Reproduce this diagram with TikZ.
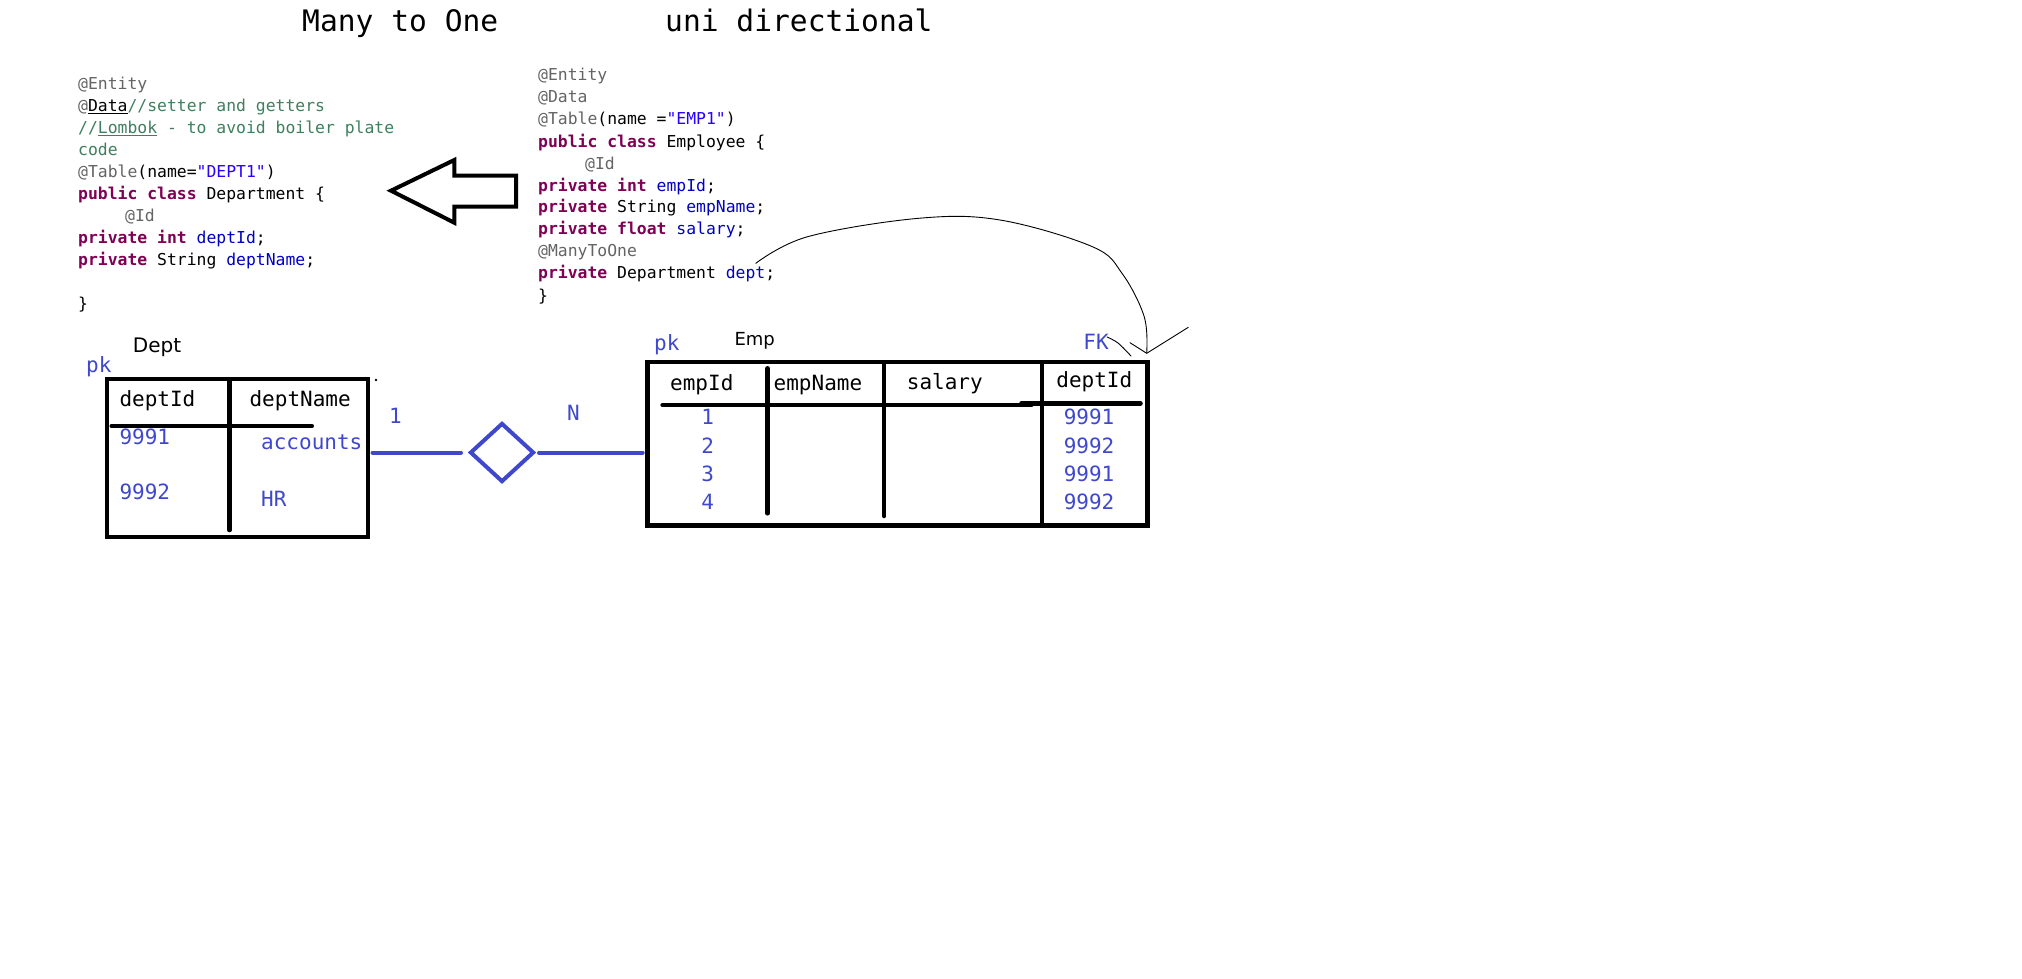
\documentclass[tikz,border=0pt]{standalone}
\usepackage{fontspec}
\usetikzlibrary{shapes.geometric}
\newfontfamily\codefont{DejaVu Sans Mono}
\newfontfamily\uifont{DejaVu Sans}
\definecolor{kw}{HTML}{7F0055}
\definecolor{ann}{HTML}{646464}
\definecolor{str}{HTML}{2A00FF}
\definecolor{fld}{HTML}{0000C0}
\definecolor{cmt}{HTML}{3F7F5F}
\definecolor{ink}{HTML}{3F48CC}
\begin{document}
\begin{tikzpicture}[x=1pt,y=-1pt,
  code/.style={anchor=mid west,inner sep=0pt,yshift=-4pt,font=\codefont\fontsize{16.4}{20}\selectfont},
  ttl/.style={anchor=mid west,inner sep=0pt,yshift=-7.5pt,font=\codefont\fontsize{29.6}{34}\selectfont},
  cell/.style={anchor=mid west,inner sep=0pt,yshift=-4pt,font=\codefont\fontsize{21}{25}\selectfont},
  cellc/.style={cell,anchor=mid},
  blue/.style={text=ink},
  lbl/.style={anchor=mid west,inner sep=0pt,yshift=-3.5pt,font=\uifont\fontsize{20}{24}\selectfont},
  tablebox/.style={draw,line width=4.5pt,inner sep=0pt,outer sep=0pt},
  tline/.style={line width=4.5pt,line cap=round},
  conn/.style={draw=ink,line width=4pt,line cap=round},
  pen/.style={line width=0.9pt,line cap=round,line join=round}
]
\useasboundingbox[fill=white] (0,0) rectangle (2022,978);

% titles
\node[ttl] (t1) at (302,22) {Many to One};
\node[ttl] (t2) at (665,22) {uni directional};

% left code block
\node[code] (L1) at (78,83) {\color{ann}@Entity};
\node[code] (L2) at (78,105) {\textcolor{ann}{@}\underline{Data}\textcolor{cmt}{//setter and getters}};
\node[code] (L3) at (78,127) {\color{cmt}//\underline{Lombok} - to avoid boiler plate};
\node[code] (L4) at (78,149) {\color{cmt}code};
\node[code] (L5) at (78,171) {\textcolor{ann}{@Table}(name=\textcolor{str}{"DEPT1"})};
\node[code] (L6) at (78,193) {\textcolor{kw}{\bfseries public class} Department \{};
\node[code] (L7) at (125,215) {\color{ann}@Id};
\node[code] (L8) at (78,237) {\textcolor{kw}{\bfseries private int} \textcolor{fld}{deptId};};
\node[code] (L9) at (78,259) {\textcolor{kw}{\bfseries private} String \textcolor{fld}{deptName};};
\node[code] (L11) at (78,303) {\}};

% right code block
\node[code] (R1) at (538,74) {\color{ann}@Entity};
\node[code] (R2) at (538,96) {\color{ann}@Data};
\node[code] (R3) at (538,118) {\textcolor{ann}{@Table}(name =\textcolor{str}{"EMP1"})};
\node[code] (R4) at (538,141) {\textcolor{kw}{\bfseries public class} Employee \{};
\node[code] (R5) at (585,163) {\color{ann}@Id};
\node[code] (R6) at (538,185) {\textcolor{kw}{\bfseries private int} \textcolor{fld}{empId};};
\node[code] (R7) at (538,206) {\textcolor{kw}{\bfseries private} String \textcolor{fld}{empName};};
\node[code] (R8) at (538,228) {\textcolor{kw}{\bfseries private float} \textcolor{fld}{salary};};
\node[code] (R9) at (538,250) {\color{ann}@ManyToOne};
\node[code] (R10) at (538,272) {\textcolor{kw}{\bfseries private} Department \textcolor{fld}{dept};};
\node[code] (R11) at (538,295) {\}};

% big hollow arrow
\draw[line width=4pt,line join=miter] (391,190.7) -- (454.3,160) -- (454.3,175.5) -- (516,175.5) -- (516,206.5) -- (454.3,206.5) -- (454.3,222.7) -- cycle;

% Dept table
\node[tablebox,minimum width=261pt,minimum height=158pt] (dept) at (237.5,458) {};
\draw[tline] (229.5,381.7) -- (229.5,530);
\draw[tline] (111.7,426) -- (311.8,426);
\node[lbl] (deptT) at (132.7,346.7) {Dept};
\node[cell,blue] (pk1) at (86,366.7) {pk};
\node[cell] (h1) at (119.3,400) {deptId};
\node[cell] (h2) at (249.4,400) {deptName};
\node[cell,blue] (d1) at (119.3,438.5) {9991};
\node[cell,blue] (d2) at (261,443) {accounts};
\node[cell,blue] (d3) at (119.3,493.5) {9992};
\node[cell,blue] (d4) at (261,500.5) {HR};
\fill (376,380) circle (1.3);

% relationship
\node[draw=ink,line width=4pt,diamond,minimum width=64pt,minimum height=59pt,inner sep=0pt] (dia) at (502,452.5) {};
\draw[conn,shorten <=4.5pt,shorten >=7pt] (dia.west -| dept.east) -- (dia.west);
\draw[conn,shorten <=3pt,shorten >=5pt] (dia.east) -- (dia.east -| 647.7,0);
\node[cell,blue] (one) at (389,417.5) {1};
\node[cell,blue] (many) at (567,414) {N};

% Emp table
\node[tablebox,minimum width=499.8pt,minimum height=163.5pt] (emp) at (897.6,443.8) {};
\draw[line width=4.5pt] (1041.8,362) -- (1041.8,525.5);
\draw[tline] (767.6,368.3) -- (767.6,513.3);
\draw[tline] (884.2,363.3) -- (884.2,516);
\draw[tline] (662.6,405) -- (1031.4,405);
\draw[tline] (1021.4,403.3) -- (1140.5,403.3);
\node[lbl,font=\uifont\fontsize{18}{22}\selectfont] (empT) at (734.3,339.5) {Emp};
\node[cell,blue] (pk2) at (654,344) {pk};
\node[cell,blue] (fk) at (1083.2,343) {FK};
\node[cell] (e1) at (670,384.3) {empId};
\node[cell] (e2) at (773.5,384.3) {empName};
\node[cell] (e3) at (906.7,383) {salary};
\node[cell] (e4) at (1056.2,381.7) {deptId};
\node[cellc,blue] (n1) at (707.7,418.8) {1};
\node[cellc,blue] (n2) at (707.7,447.2) {2};
\node[cellc,blue] (n3) at (707.7,475.5) {3};
\node[cellc,blue] (n4) at (707.7,503.2) {4};
\node[cell,blue] (f1) at (1063.6,418.8) {9991};
\node[cell,blue] (f2) at (1063.6,447.2) {9992};
\node[cell,blue] (f3) at (1063.6,475.5) {9991};
\node[cell,blue] (f4) at (1063.6,503.2) {9992};

% hand-drawn arrow from dept field to FK column
\draw[pen] plot[smooth,tension=0.6] coordinates {(755.8,263.3) (807.6,236.7) (918.6,218.3) (1000,220) (1092.4,246.7) (1122,273.3) (1144.2,316.7) (1146.7,353.3)};
\draw[pen] (1130,342.7) -- (1146.7,353.3) -- (1188.3,327.3);
\draw[pen] plot[smooth,tension=0.6] coordinates {(1107,337) (1118,343) (1131,356)};
\end{tikzpicture}
\end{document}
